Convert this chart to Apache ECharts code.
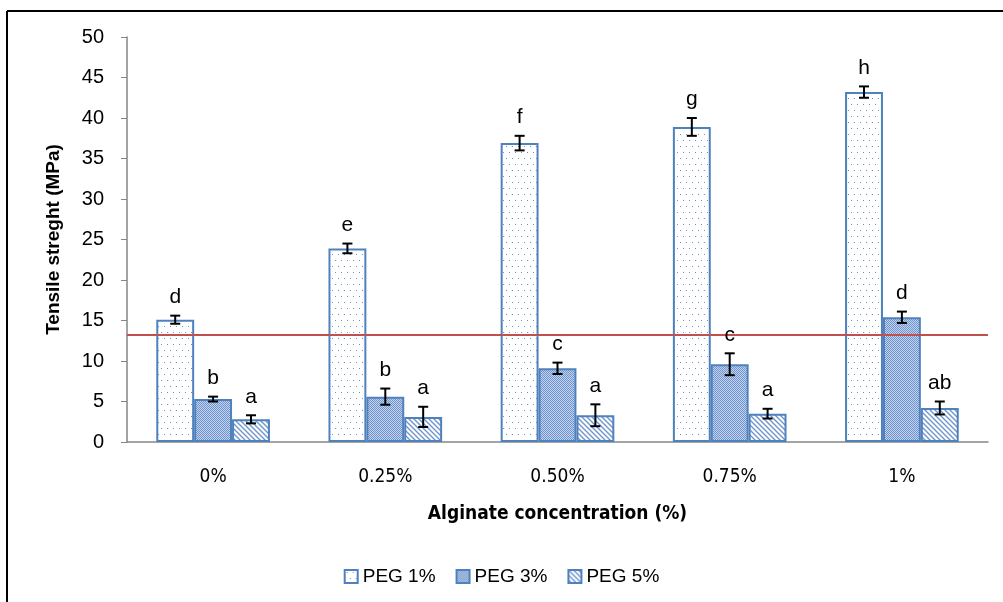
<html>
<head>
<meta charset="UTF-8">
<title>Tensile strength</title>
<script src="https://cdn.jsdelivr.net/npm/echarts@6/dist/echarts.min.js"></script>
<style>
html, body { margin: 0; padding: 0; background: #fff; }
#main { width: 1003px; height: 602px; }
</style>
</head>
<body>
<div id="main"></div>
<script type="text/javascript">
// categories (alginate concentration)
var categories = ['0%', '0.25%', '0.50%', '0.75%', '1%'];
var seriesNames = ['PEG 1%', 'PEG 3%', 'PEG 5%'];
// tensile strength means (MPa)
var peg1 = [15.1, 23.9, 36.9, 38.9, 43.2];
var peg3 = [5.3, 5.6, 9.1, 9.6, 15.4];
var peg5 = [2.8, 3.1, 3.3, 3.5, 4.2];
// error bars (+/-)
var peg1Err = [0.5, 0.6, 0.9, 1.1, 0.7];
var peg3Err = [0.3, 1.0, 0.7, 1.35, 0.7];
var peg5Err = [0.5, 1.25, 1.35, 0.6, 0.8];
// significance letters
var peg1Letters = ['d', 'e', 'f', 'g', 'h'];
var peg3Letters = ['b', 'b', 'c', 'c', 'd'];
var peg5Letters = ['a', 'a', 'a', 'a', 'ab'];
var refLine = 13.2;

var blue = '#4f81bd';
var barPct = 0.22;
var sans = "'Liberation Sans', Arial, sans-serif";
var narrow = "'DejaVu Sans Condensed', 'Liberation Sans', sans-serif";

// 填充图案
function makeTile(w, h, draw) {
	var c = document.createElement('canvas');
	c.width = w; c.height = h;
	var ctx = c.getContext('2d');
	draw(ctx, w, h);
	return c;
}
var dotTile = makeTile(12, 12, function(ctx, w, h){
	ctx.fillStyle = '#ffffff';
	ctx.fillRect(0, 0, w, h);
	ctx.fillStyle = '#6f93cc';
	ctx.fillRect(2, 2, 1, 1);
	ctx.fillRect(8, 2, 1, 1);
	ctx.fillRect(5, 8, 1, 1);
	ctx.fillRect(11, 8, 1, 1);
});
var denseTile = makeTile(2, 2, function(ctx, w, h){
	ctx.fillStyle = '#c2d2ec';
	ctx.fillRect(0, 0, w, h);
	ctx.fillStyle = '#7094cd';
	ctx.fillRect(0, 0, 1, 1);
	ctx.fillRect(1, 1, 1, 1);
});
var stripeTile = makeTile(5, 5, function(ctx, w, h){
	ctx.fillStyle = '#ffffff';
	ctx.fillRect(0, 0, w, h);
	ctx.strokeStyle = '#6f95cf';
	ctx.lineWidth = 1.4;
	ctx.beginPath();
	ctx.moveTo(-1, -1); ctx.lineTo(w + 1, h + 1);
	ctx.moveTo(-1, h - 1); ctx.lineTo(1, h + 1);
	ctx.moveTo(w - 1, -1); ctx.lineTo(w + 1, 1);
	ctx.stroke();
});
var patterns = [dotTile, denseTile, stripeTile];
var values = [peg1, peg3, peg5];
var errs = [peg1Err, peg3Err, peg5Err];
var letters = [peg1Letters, peg3Letters, peg5Letters];

function errorSeries(k) {
	var data = [];
	for (var i = 0; i < categories.length; i++) {
		data.push([i, values[k][i], errs[k][i]]);
	}
	return {
		type: 'custom',
		silent: true,
		z: 5,
		data: data,
		encode: { x: 0, y: 1 },
		renderItem: function(params, api) {
			var cat = api.value(0), v = api.value(1), e = api.value(2);
			var bw = api.size([1, 0])[0];
			var off = (k - 1) * bw * barPct;
			var x = api.coord([cat, v])[0] + off;
			var top = api.coord([cat, v + e])[1];
			var bot = api.coord([cat, v - e])[1];
			var st = { stroke: '#000', lineWidth: 2 };
			return {
				type: 'group',
				children: [
					{ type: 'line', shape: { x1: x, y1: top, x2: x, y2: bot }, style: st },
					{ type: 'line', shape: { x1: x - 5, y1: top, x2: x + 5, y2: top }, style: st },
					{ type: 'line', shape: { x1: x - 5, y1: bot, x2: x + 5, y2: bot }, style: st },
					{ type: 'text', style: {
						text: letters[k][params.dataIndex], x: x, y: top - 8,
						align: 'center', verticalAlign: 'bottom',
						fill: '#000', fontSize: 21, fontFamily: sans
					} }
				]
			};
		}
	};
}

var series = [];
for (var k = 0; k < 3; k++) {
	var s = {
		name: seriesNames[k],
		type: 'bar',
		barWidth: (barPct * 100) + '%',
		barGap: '0%',
		data: values[k],
		itemStyle: {
			color: { image: patterns[k], repeat: 'repeat' },
			borderColor: blue,
			borderWidth: 2
		}
	};
	if (k === 0) {
		s.markLine = {
			silent: true,
			symbol: 'none',
			label: { show: false },
			lineStyle: { color: '#c0504d', width: 2, type: 'solid' },
			data: [{ yAxis: refLine }]
		};
	}
	series.push(s);
}
for (var k2 = 0; k2 < 3; k2++) series.push(errorSeries(k2));

var myChart = echarts.init(document.getElementById('main'));
var option = {
	animation: false,
	backgroundColor: '#fff',
	graphic: [
		{ type: 'line', shape: { x1: 7, y1: 11, x2: 1003, y2: 11 }, style: { stroke: '#000', lineWidth: 2 } },
		{ type: 'line', shape: { x1: 7, y1: 11, x2: 7, y2: 602 }, style: { stroke: '#000', lineWidth: 2 } }
	],
	grid: { left: 127, top: 37, right: 15, bottom: 160 },
	legend: {
		data: seriesNames,
		bottom: 11,
		left: 'center',
		icon: 'rect',
		itemWidth: 13,
		itemHeight: 13,
		itemGap: 20,
		textStyle: { fontSize: 19, color: '#000', fontFamily: sans }
	},
	xAxis: {
		type: 'category',
		data: categories,
		name: 'Alginate concentration (%)',
		nameLocation: 'middle',
		nameGap: 63,
		nameTextStyle: { fontSize: 19, fontWeight: 'bold', color: '#000', fontFamily: narrow },
		axisLine: { lineStyle: { color: '#868686', width: 1.5 } },
		axisTick: { length: 7, lineStyle: { color: '#868686' } },
		axisLabel: { margin: 26, fontSize: 19, color: '#000', fontFamily: narrow }
	},
	yAxis: {
		type: 'value',
		min: 0, max: 50, interval: 5,
		name: 'Tensile streght (MPa)',
		nameLocation: 'middle',
		nameGap: 64,
		nameTextStyle: { fontSize: 19, fontWeight: 'bold', color: '#000', fontFamily: sans },
		splitLine: { show: false },
		axisLine: { show: true, lineStyle: { color: '#868686', width: 1.5 } },
		axisTick: { show: true, length: 6, lineStyle: { color: '#868686' } },
		axisLabel: { margin: 23, fontSize: 20, color: '#000', fontFamily: sans }
	},
	series: series
};
myChart.setOption(option);
</script>
</body>
</html>
